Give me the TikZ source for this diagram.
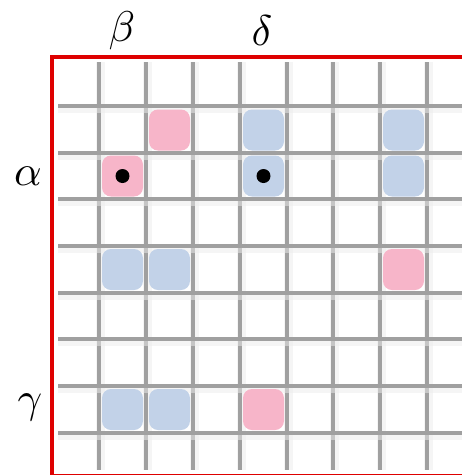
\documentclass[tikz,border=0pt]{standalone}
\usetikzlibrary{positioning}

\definecolor{cellpink}{RGB}{247,181,201}
\definecolor{cellblue}{RGB}{194,210,232}
\definecolor{gridgray}{RGB}{160,160,160}
\definecolor{framered}{RGB}{222,0,0}

\begin{document}
\begin{tikzpicture}[
  x=1pt, y=-1pt,
  gridshade/.style={line width=9pt, draw=gray!15, opacity=0.5},
  gridline/.style={line width=4pt, draw=gridgray},
  frame/.style={line width=4pt, draw=framered},
  cell/.style={rectangle, rounded corners=9pt, fill=#1,
    minimum size=41pt, inner sep=0pt},
  dot/.style={circle, fill=black, minimum size=14pt, inner sep=0pt},
  lbl/.style={scale=4.3, inner sep=0pt}
]
\useasboundingbox (0,0) rectangle (462,475);
\fill[white] (0,0) rectangle (462,475);

% Frame
\begin{scope}
  \clip (0,0) rectangle (462,475);
  \draw[frame] (52,57) rectangle (480,476);
\end{scope}

% Grid
\foreach \gx in {99,146,193,240,287,333,380,427} {
  \draw[gridshade] (\gx+1,62) -- (\gx+1,470);
  \draw[gridline] (\gx,62) -- (\gx,470);
}
\foreach \gy in {106,153,199,246,293,339,386,433} {
  \draw[gridshade] (58,\gy+2) -- (462,\gy+2);
  \draw[gridline] (58,\gy) -- (462,\gy);
}

% Cells
\node[cell=cellpink] (p1) at (169.5,130) {};
\node[cell=cellpink] (p2) at (122.5,176) {};
\node[cell=cellblue] (b1) at (263.5,130) {};
\node[cell=cellblue] (b2) at (263.5,176) {};
\node[cell=cellblue] (b3) at (403.5,130) {};
\node[cell=cellblue] (b4) at (403.5,176) {};
\node[cell=cellblue] (b5) at (122.5,269.5) {};
\node[cell=cellblue] (b6) at (169.5,269.5) {};
\node[cell=cellpink] (p3) at (403.5,269.5) {};
\node[cell=cellblue] (b7) at (122.5,409.5) {};
\node[cell=cellblue] (b8) at (169.5,409.5) {};
\node[cell=cellpink] (p4) at (263.5,409.5) {};

% Dots
\node[dot] (d1) at (p2) {};
\node[dot] (d2) at (b2) {};

% Labels
\node[lbl] (beta) at (122,31) {$\beta$};
\node[lbl] (delta) at (262,31) {$\delta$};
\node[lbl] (alpha) at (28,176) {$\alpha$};
\node[lbl] (gamma) at (30,407) {$\gamma$};

\end{tikzpicture}
\end{document}
